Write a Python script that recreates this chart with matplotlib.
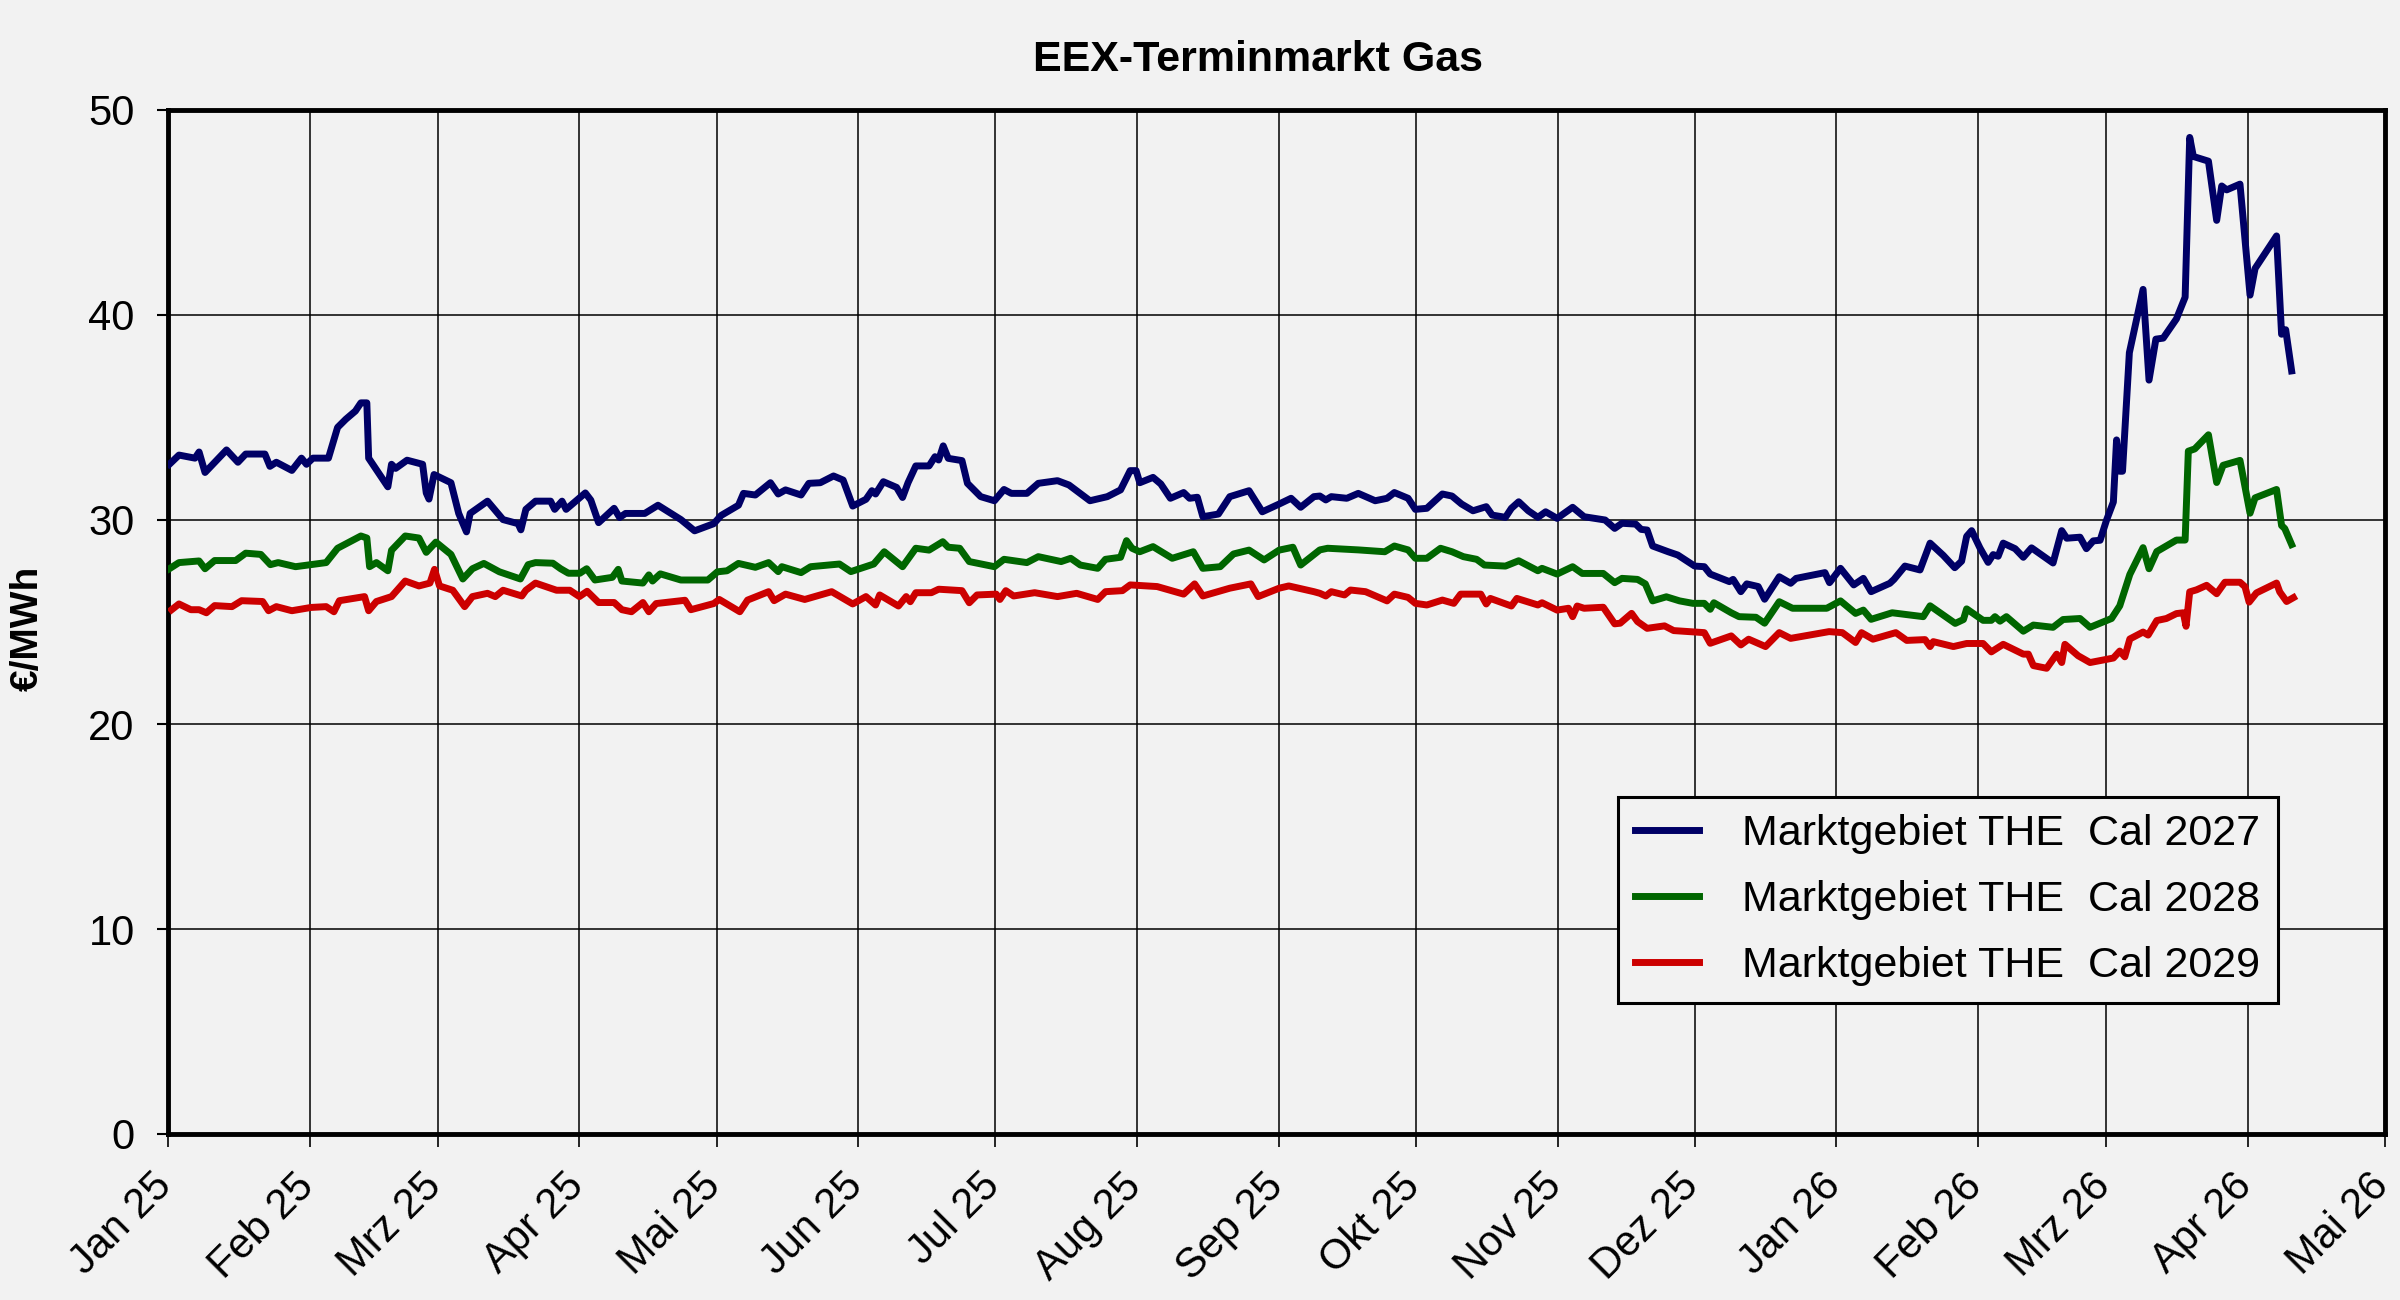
import matplotlib
matplotlib.use("Agg")
import matplotlib.pyplot as plt
import matplotlib.transforms as mtransforms
import pandas as pd

# EEX futures, THE market area; x = days since 01.01.2025, y = EUR/MWh
days_2027 = [0.3, 2.4, 5.9, 6.8, 8.1, 12.8, 15.3, 17.0, 21.2, 22.3, 23.7, 27.1, 29.2, 30.3,
             31.7, 35.1, 37.1, 38.9, 41.0, 42.2, 43.5, 43.9, 48.1, 48.9, 49.8, 52.3, 55.7,
             56.5, 57.1, 58.2, 61.9, 63.6, 65.3, 66.1, 69.9, 73.3, 76.6, 77.2, 78.3, 80.4,
             83.7, 84.6, 86.2, 87.1, 91.3, 92.5, 94.2, 97.6, 98.8, 100.1, 104.3, 107.2,
             112.2, 115.2, 119.4, 121.0, 124.8, 125.9, 128.5, 131.8, 133.5, 135.1, 138.5,
             140.2, 142.7, 145.6, 147.7, 149.8, 152.7, 154.0, 154.8, 156.5, 159.4, 160.7,
             161.9, 163.6, 166.5, 167.8, 168.6, 169.6, 170.7, 173.7, 174.9, 177.8, 180.8,
             182.9, 184.5, 187.9, 190.4, 194.6, 197.1, 201.7, 205.5, 208.4, 210.5, 211.8,
             212.6, 215.5, 217.2, 219.3, 222.2, 223.5, 225.2, 226.4, 229.8, 232.3, 236.5,
             239.4, 243.1, 245.7, 247.8, 250.7, 252.0, 253.3, 254.5, 257.9, 260.4, 264.1,
             266.7, 268.3, 271.3, 272.9, 275.4, 278.8, 280.9, 283.0, 285.5, 287.2, 288.4,
             289.7, 292.6, 293.9, 295.5, 297.6, 299.7, 301.4, 303.9, 307.3, 309.8, 314.4,
             316.5, 318.1, 321.1, 322.3, 323.6, 324.8, 328.2, 330.3, 334.0, 336.1, 337.4,
             341.6, 342.4, 344.1, 345.4, 347.9, 349.3, 352.5, 355.0, 356.2, 362.5, 363.5,
             365.9, 368.8, 370.9, 372.6, 376.7, 377.6, 380.0, 383.3, 385.5, 388.4, 390.9,
             392.4, 393.5, 394.6, 396.4, 398.2, 399.3, 400.4, 401.5, 404.1, 405.9, 407.7,
             412.4, 414.3, 415.4, 418.3, 419.7, 421.2, 422.7, 424.1, 425.6, 426.3, 427.0,
             427.6, 429.1, 432.1, 433.4, 434.9, 436.5, 439.4, 441.3, 442.3, 443.1, 446.4,
             448.2, 449.3, 450.4, 453.3, 455.5, 456.6, 461.3, 462.4, 463.3, 464.6]
cal_2027 = [32.7, 33.15, 33.0, 33.3, 32.3, 33.4, 32.8, 33.2, 33.2, 32.6, 32.8, 32.4, 33.0, 32.7,
            33.0, 33.0, 34.5, 34.9, 35.3, 35.7, 35.7, 33.0, 31.6, 32.7, 32.5, 32.9, 32.7,
            31.3, 31.0, 32.2, 31.8, 30.3, 29.4, 30.3, 30.9, 30.0, 29.8, 29.5, 30.5, 30.9,
            30.9, 30.5, 30.9, 30.5, 31.3, 30.95, 29.85, 30.55, 30.1, 30.3, 30.3, 30.7,
            30.0, 29.45, 29.8, 30.2, 30.7, 31.28, 31.2, 31.8, 31.25, 31.45, 31.2,
            31.77, 31.8, 32.13, 31.93, 30.66, 30.99, 31.41, 31.25, 31.85, 31.57, 31.08,
            31.8, 32.62, 32.62, 33.07, 32.91, 33.6, 32.99, 32.88, 31.77, 31.12, 30.92,
            31.47, 31.28, 31.28, 31.77, 31.9, 31.69, 30.92, 31.12, 31.45, 32.39, 32.39,
            31.8, 32.06, 31.74, 31.04, 31.32, 31.04, 31.09, 30.14, 30.27, 31.12, 31.41,
            30.38, 30.76, 31.04, 30.6, 31.12, 31.15, 30.96, 31.12, 31.04, 31.28, 30.92,
            31.04, 31.32, 31.04, 30.5, 30.55, 31.25, 31.15, 30.76, 30.43, 30.55, 30.63,
            30.22, 30.11, 30.55, 30.87, 30.43, 30.11, 30.38, 30.06, 30.6, 30.14, 29.98,
            29.57, 29.82, 29.78, 29.52, 29.49, 28.71, 28.43, 28.27, 27.73, 27.7, 27.34,
            26.97, 27.08, 26.48, 26.86, 26.73, 26.11, 27.21, 26.89, 27.13, 27.41, 26.92,
            27.62, 26.81, 27.13, 26.48, 26.89, 27.08, 27.73, 27.54, 28.85, 28.25, 27.65,
            27.97, 29.18, 29.46, 28.62, 27.91, 28.29, 28.21, 28.85, 28.58, 28.16, 28.62,
            27.88, 29.46, 29.09, 29.14, 28.58, 28.96, 28.99, 29.97, 30.86, 33.89, 32.36,
            32.36, 38.15, 41.24, 36.81, 38.81, 38.86, 39.8, 40.86, 48.66, 47.73, 47.5,
            44.61, 46.29, 46.1, 46.38, 40.96, 42.26, 43.85, 39.05, 39.27, 37.26]

days_2028 = [0.3, 2.4, 6.8, 8.1, 10.2, 14.8, 17.0, 20.3, 22.4, 24.1, 27.9, 34.6, 37.1, 42.2,
             43.5, 44.1, 45.6, 48.1, 48.9, 51.9, 54.9, 56.5, 58.6, 61.9, 64.5, 66.6, 69.1,
             72.5, 77.1, 78.8, 80.4, 84.2, 85.9, 87.6, 90.1, 91.6, 93.4, 97.2, 98.5, 99.3,
             103.9, 105.2, 106.0, 107.7, 112.2, 118.1, 120.2, 122.3, 124.8, 128.5, 131.4,
             133.5, 134.3, 138.5, 140.6, 146.9, 149.4, 154.4, 156.7, 160.7, 163.6, 166.5,
             169.5, 170.7, 173.2, 175.3, 180.8, 182.9, 187.9, 190.4, 195.4, 197.5, 199.6,
             203.4, 205.1, 208.4, 209.7, 210.9, 212.6, 215.5, 219.7, 224.3, 226.4, 230.2,
             233.1, 236.5, 239.8, 243.1, 246.1, 247.8, 252.0, 253.7, 260.4, 266.2, 268.3,
             271.3, 272.9, 275.4, 278.4, 280.9, 283.4, 286.3, 288.0, 292.6, 295.5, 299.7,
             300.6, 303.9, 307.3, 309.4, 314.0, 316.5, 318.1, 321.5, 323.2, 324.8, 327.8,
             330.7, 333.6, 336.1, 337.4, 338.2, 342.0, 343.7, 347.4, 349.3, 352.5, 355.4,
             362.9, 365.9, 369.2, 370.9, 372.6, 377.2, 380.4, 384.0, 385.5, 391.0, 392.8,
             393.5, 397.1, 398.9, 399.7, 400.8, 402.2, 405.9, 408.1, 412.4, 414.6, 418.3,
             420.5, 425.2, 427.0, 429.2, 432.1, 433.4, 435.1, 439.4, 441.3, 442.0, 443.4,
             446.4, 448.2, 449.6, 453.3, 455.5, 456.6, 461.3, 462.4, 463.1, 464.6]
cal_2028 = [27.6, 27.9, 27.98, 27.6, 28.0, 28.0, 28.36, 28.3, 27.8, 27.9, 27.7, 27.9, 28.6, 29.2,
            29.1, 27.7, 27.9, 27.5, 28.5, 29.2, 29.1, 28.4, 28.9, 28.3, 27.1, 27.6, 27.86,
            27.45, 27.1, 27.8, 27.9, 27.87, 27.6, 27.38, 27.38, 27.6, 27.05, 27.18, 27.57, 27.0,
            26.9, 27.3, 27.0, 27.35, 27.05, 27.05, 27.45, 27.5, 27.86, 27.67, 27.9,
            27.46, 27.7, 27.41, 27.7, 27.83, 27.46, 27.83, 28.43, 27.7, 28.6, 28.51,
            28.92, 28.65, 28.6, 27.95, 27.7, 28.06, 27.9, 28.19, 27.95, 28.11, 27.78,
            27.62, 28.06, 28.16, 28.97, 28.6, 28.43, 28.68, 28.11, 28.43, 27.62, 27.7,
            28.32, 28.51, 28.03, 28.51, 28.65, 27.78, 28.52, 28.6, 28.52, 28.43, 28.71,
            28.52, 28.11, 28.11, 28.6, 28.43, 28.19, 28.06, 27.78, 27.73, 27.99, 27.5,
            27.62, 27.34, 27.7, 27.37, 27.37, 26.92, 27.13, 27.08, 26.86, 26.03, 26.23,
            26.03, 25.91, 25.91, 25.62, 25.94, 25.45, 25.26, 25.23, 24.94, 25.99, 25.67,
            25.67, 26.03, 25.42, 25.58, 25.13, 25.45, 25.36, 25.26, 25.79, 24.93, 25.12,
            25.64, 25.08, 25.08, 25.26, 25.04, 25.26, 24.55, 24.85, 24.74, 25.12, 25.17,
            24.74, 25.17, 25.79, 27.32, 28.63, 27.6, 28.44, 29.0, 29.0, 33.34, 33.45,
            34.14, 31.81, 32.65, 32.89, 30.31, 31.06, 31.47, 29.71, 29.56, 28.78]

days_2029 = [0.8, 2.4, 5.0, 6.8, 8.4, 10.2, 14.0, 16.1, 20.7, 22.0, 23.7, 27.1, 31.3, 34.6,
             36.3, 37.5, 43.0, 43.9, 45.6, 48.9, 51.9, 54.9, 57.3, 58.3, 59.4, 62.3, 64.9,
             66.6, 69.9, 71.6, 73.3, 77.4, 78.3, 80.4, 85.0, 87.9, 90.0, 91.7, 94.2, 97.6,
             99.3, 101.4, 103.9, 105.2, 106.8, 113.1, 114.4, 119.4, 120.6, 125.1, 126.8,
             131.4, 132.6, 135.1, 139.3, 145.2, 149.8, 152.7, 154.8, 155.7, 159.8, 161.5,
             162.4, 163.6, 167.0, 168.6, 173.7, 175.3, 177.0, 181.2, 182.0, 183.3, 185.0,
             189.6, 194.6, 198.8, 203.4, 205.1, 208.8, 210.5, 216.4, 222.2, 224.6, 226.4,
             232.3, 236.9, 238.5, 243.1, 245.2, 250.7, 252.0, 253.3, 254.5, 257.4, 258.7,
             262.0, 266.7, 268.3, 271.3, 272.9, 275.4, 278.8, 281.3, 282.8, 287.2, 288.4,
             289.3, 293.9, 295.1, 299.7, 300.6, 303.9, 306.4, 307.3, 308.3, 309.8, 314.0,
             316.5, 317.7, 320.2, 321.5, 323.6, 327.4, 329.4, 336.1, 337.4, 342.0, 344.1,
             345.8, 349.5, 352.5, 355.0, 363.4, 366.3, 369.2, 370.5, 373.0, 378.0, 380.4,
             384.4, 385.5, 386.2, 390.6, 393.5, 397.1, 398.9, 401.5, 405.9, 407.0, 408.1,
             411.0, 413.2, 414.3, 415.0, 417.9, 420.5, 425.6, 427.0, 428.1, 429.2, 432.1,
             433.2, 435.1, 437.2, 439.4, 440.9, 441.5, 442.3, 443.8, 446.0, 448.2, 450.0,
             453.3, 454.4, 455.3, 456.9, 461.3, 462.0, 463.5, 465.0]
cal_2029 = [25.6, 25.88, 25.6, 25.6, 25.45, 25.8, 25.75, 26.04, 26.0, 25.55, 25.75, 25.55, 25.71, 25.75,
            25.5, 26.04, 26.24, 25.55, 26.0, 26.24, 27.0, 26.76, 26.9, 27.57, 26.76, 26.55, 25.75,
            26.24, 26.4, 26.24, 26.55, 26.27, 26.55, 26.9, 26.55, 26.55, 26.24, 26.5, 25.95, 25.95,
            25.6, 25.5, 25.95, 25.5, 25.9, 26.06, 25.6, 25.9, 26.1, 25.5, 26.07,
            26.48, 26.04, 26.36, 26.1, 26.48, 25.88, 26.24, 25.83, 26.32, 25.78, 26.24,
            25.99, 26.43, 26.43, 26.6, 26.53, 25.94, 26.32, 26.36, 26.1, 26.53, 26.27,
            26.43, 26.24, 26.4, 26.1, 26.48, 26.53, 26.81, 26.73, 26.36, 26.86, 26.27,
            26.65, 26.86, 26.24, 26.65, 26.76, 26.48, 26.4, 26.27, 26.48, 26.32, 26.56,
            26.48, 26.03, 26.36, 26.2, 25.91, 25.83, 26.07, 25.91, 26.36, 26.36, 25.88,
            26.15, 25.78, 26.15, 25.83, 25.94, 25.58, 25.67, 25.26, 25.78, 25.67, 25.72,
            24.91, 24.94, 25.42, 25.02, 24.69, 24.81, 24.58, 24.48, 23.96, 24.32, 23.88,
            24.16, 23.8, 24.48, 24.2, 24.53, 24.48, 24.0, 24.48, 24.16, 24.48, 24.1,
            24.14, 23.8, 24.04, 23.8, 23.95, 23.95, 23.54, 23.91, 23.43, 23.43, 22.87,
            22.74, 23.43, 23.02, 23.91, 23.35, 23.02, 23.24, 23.58, 23.3, 24.17, 24.51,
            24.36, 25.07, 25.17, 25.41, 25.45, 24.79, 26.47, 26.57, 26.79, 26.38, 26.94,
            26.94, 26.72, 25.97, 26.42, 26.9, 26.47, 26.0, 26.19]

labels = ["Marktgebiet THE  Cal 2027", "Marktgebiet THE  Cal 2028", "Marktgebiet THE  Cal 2029"]
colors = ["#000066", "#006600", "#CC0000"]
month_labels = ["Jan 25", "Feb 25", "Mrz 25", "Apr 25", "Mai 25", "Jun 25", "Jul 25", "Aug 25",
                "Sep 25", "Okt 25", "Nov 25", "Dez 25", "Jan 26", "Feb 26", "Mrz 26", "Apr 26",
                "Mai 26"]
y_ticks = [0, 10, 20, 30, 40, 50]

start = pd.Timestamp("2025-01-01")
bg = "#F2F2F2"

plt.rcParams["font.family"] = ["Liberation Sans", "DejaVu Sans"]

fig = plt.figure(figsize=(24, 13), dpi=100, facecolor=bg)
ax = fig.add_axes([0.07, 0.1277, 0.9237, 0.7877], facecolor=bg)

series = [(days_2027, cal_2027), (days_2028, cal_2028), (days_2029, cal_2029)]
for (d, v), lab, col in zip(series, labels, colors):
    x = start + pd.to_timedelta(d, unit="D")
    ax.plot(x, v, color=col, lw=5, label=lab, solid_joinstyle="round", zorder=3)

ticks = pd.date_range("2025-01-01", "2026-05-01", freq="MS")
ax.set_xlim(ticks[0], ticks[-1])
ax.set_ylim(0, 50)
ax.set_yticks(y_ticks)
ax.tick_params(axis="y", labelsize=30, length=8, width=1.5, pad=16)
ax.tick_params(axis="x", length=9, width=1.2, pad=14)
ax.set_xticks(ticks)
ax.set_xticklabels(month_labels, rotation=45, ha="right", rotation_mode="anchor", fontsize=30)
# pull the rotated labels a little to the left, as in the original
shift = mtransforms.ScaledTranslation(-16 / 100, 0, fig.dpi_scale_trans)
for t in ax.get_xticklabels():
    t.set_transform(t.get_transform() + shift)
ax.grid(True, color="black", lw=1.1)
ax.set_axisbelow(True)
for s in ax.spines.values():
    s.set_linewidth(3.5)
    s.set_color("black")

fig.text(28 / 2400, 0.517, "€/MWh", rotation=90, ha="center", va="center",
         fontsize=28, fontweight="bold")
fig.text(0.524, 0.954, "EEX-Terminmarkt Gas", ha="center", va="center",
         fontsize=31, fontweight="bold")

leg = ax.legend(loc="upper left", bbox_to_anchor=(0.674, 0.387), bbox_transform=fig.transFigure,
                fontsize=31, frameon=True, fancybox=False, facecolor=bg, edgecolor="black",
                framealpha=1, handlelength=1.5, handletextpad=1.0, labelspacing=0.6,
                borderpad=0.4, borderaxespad=0)
leg.get_frame().set_linewidth(2.2)

fig.savefig("out.png", dpi=100, facecolor=bg)
